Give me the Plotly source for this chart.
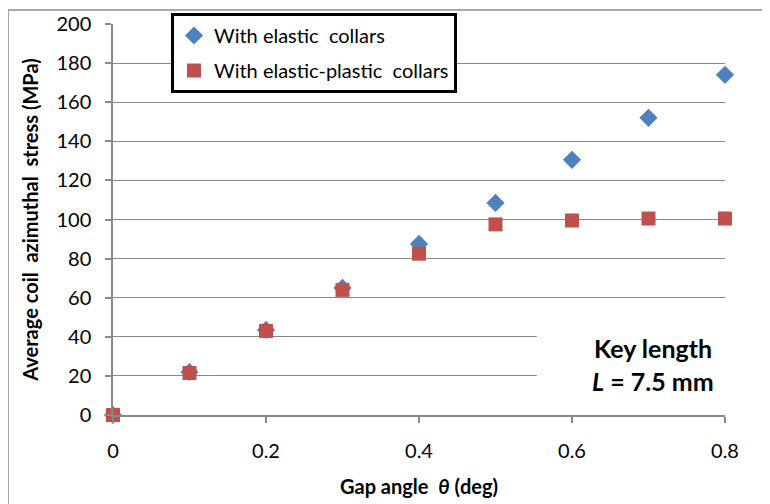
import plotly.graph_objects as go

gap_angle = [0, 0.1, 0.2, 0.3, 0.4, 0.5, 0.6, 0.7, 0.8]
elastic = [0, 22, 43.5, 65, 87.5, 108.5, 130.5, 152, 174]
elastic_plastic = [0, 21.5, 43, 64, 82.5, 97.5, 99.5, 100.5, 100.5]

x_ticks = [0, 0.2, 0.4, 0.6, 0.8]
x_tick_labels = ["0", "0.2", "0.4", "0.6", "0.8"]
y_ticks = list(range(0, 201, 20))

FONT = "Lato"
GRID = "#898989"

fig = go.Figure()
fig.add_trace(go.Scatter(
    x=gap_angle, y=elastic, mode="markers", name="With elastic&nbsp; collars",
    marker=dict(symbol="diamond", size=14, color="#4F81BD"),
    legendgroup="a", cliponaxis=False))
fig.add_trace(go.Scatter(
    x=gap_angle, y=elastic_plastic, mode="markers", name="With elastic-plastic&nbsp; collars",
    marker=dict(symbol="square", size=14, color="#C0504D"),
    legendgroup="b", cliponaxis=False))

# white box behind the key-length label
fig.add_shape(type="rect", xref="x", yref="y", x0=0.554, x1=0.82, y0=1, y1=50,
              fillcolor="white", line=dict(width=0), layer="between")
# outer chart border (page has 8px body offset)
fig.add_shape(type="rect", xref="paper", yref="paper",
              x0=(8 - 113) / 612, x1=1.15, y0=-0.35, y1=(415 - 10) / 391,
              line=dict(color="#8c8c8c", width=1.5), fillcolor="rgba(0,0,0,0)", layer="below")

fig.add_annotation(x=0.706, y=34.5, xref="x", yref="y", text="<b>Key length</b>",
                   showarrow=False, font=dict(family=FONT, size=25, color="black"))
fig.add_annotation(x=0.706, y=17.3, xref="x", yref="y", text="<b><i>L</i> = 7.5 mm</b>",
                   showarrow=False, font=dict(family=FONT, size=25, color="black"))

fig.update_xaxes(
    range=[0, 0.8], tickvals=x_ticks, ticktext=x_tick_labels,
    showgrid=False, zeroline=False, showline=True, linecolor=GRID, linewidth=1.5,
    ticks="outside", ticklen=6, tickcolor=GRID, tickwidth=1.5,
    tickfont=dict(family=FONT, size=20, color="black"), ticklabelstandoff=11,
    title=dict(text="<b>Gap angle&nbsp; <i>θ</i> (deg)</b>", font=dict(family=FONT, size=20, color="black"),
               standoff=19))
fig.update_yaxes(
    range=[0, 200], tickvals=y_ticks,
    showgrid=True, gridcolor=GRID, gridwidth=1.3, zeroline=False,
    showline=True, linecolor=GRID, linewidth=1.5,
    ticks="outside", ticklen=6, tickcolor=GRID, tickwidth=1.5,
    tickfont=dict(family=FONT, size=20, color="black"), ticklabelstandoff=10,
    title=dict(text="<b>Average coil&nbsp; azimuthal&nbsp; stress (MPa)</b>",
               font=dict(family=FONT, size=20, color="black"), standoff=12))

fig.update_layout(
    width=770, height=504,
    margin=dict(l=105, r=53, t=16, b=97, autoexpand=False),
    paper_bgcolor="white", plot_bgcolor="white",
    showlegend=True,
    legend=dict(x=(171 - 113) / 612, y=(415 - 13) / 391, xanchor="left", yanchor="top",
                bgcolor="white", bordercolor="black", borderwidth=3,
                font=dict(family=FONT, size=20, color="black"),
                tracegroupgap=6, itemwidth=30),
)

fig.write_html("out.html")
